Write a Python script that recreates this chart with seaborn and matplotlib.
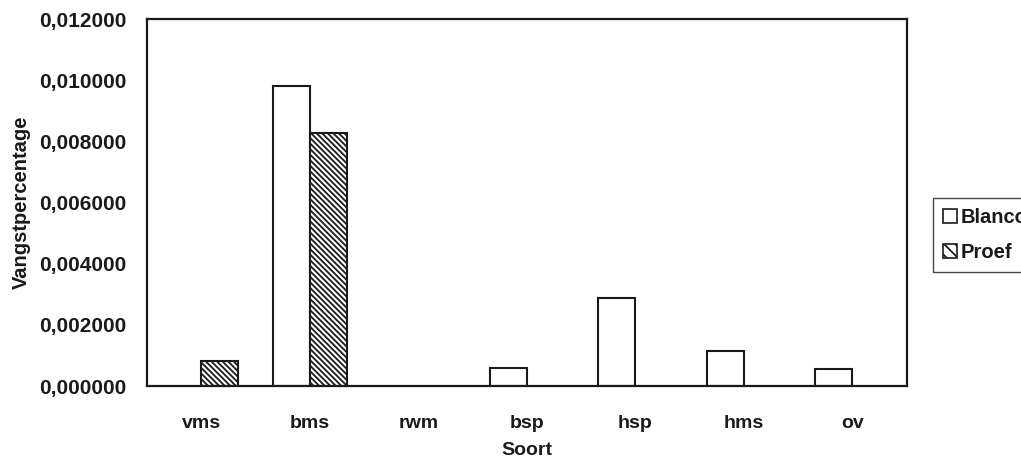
import matplotlib
matplotlib.use("Agg")
import matplotlib.pyplot as plt
from matplotlib.patches import Patch
from matplotlib.ticker import FuncFormatter, FixedLocator
import numpy as np
import pandas as pd
import seaborn as sns

# Vangstpercentage per soort, blanco- en proefvangst
soorten = ["vms", "bms", "rwm", "bsp", "hsp", "hms", "ov"]
blanco = [0.0, 0.0098, 0.0, 0.00059, 0.00289, 0.00115, 0.00057]
proef = [0.00082, 0.00826, 0.0, 0.0, 0.0, 0.0, 0.0]
series = ["Blanco", "Proef"]
y_ticks = [0.0, 0.002, 0.004, 0.006, 0.008, 0.010, 0.012]

df = pd.DataFrame({
    "Soort": soorten * 2,
    "Vangstpercentage": blanco + proef,
    "Reeks": [series[0]] * len(soorten) + [series[1]] * len(soorten),
})

sns.set_style("white")
plt.rcParams["font.family"] = ["Liberation Sans", "DejaVu Sans"]
plt.rcParams["font.weight"] = "bold"
plt.rcParams["hatch.linewidth"] = 1.3
plt.rcParams["hatch.color"] = "#222222"

fig = plt.figure(figsize=(10.21, 4.58), dpi=100)
ax = fig.add_axes([0.144, 0.157, 0.744, 0.8015])

sns.barplot(data=df, x="Soort", y="Vangstpercentage", hue="Reeks",
            order=soorten, hue_order=series, palette=["white", "white"],
            width=0.68, edgecolor="#1a1a1a", linewidth=1.5,
            legend=False, ax=ax)

hatch = "\\" * 6
n = len(soorten)
for i, bar in enumerate(ax.patches[:2 * n]):
    if i >= n:
        bar.set_hatch(hatch)
    if bar.get_height() == 0:
        bar.set_visible(False)

ax.set_ylim(0, 0.012)
ax.set_xlim(-0.5, n - 0.5)
ax.yaxis.set_major_locator(FixedLocator(y_ticks))
ax.yaxis.set_major_formatter(FuncFormatter(lambda v, p: f"{v:.6f}".replace(".", ",")))
ax.xaxis.set_minor_locator(FixedLocator(np.arange(-0.5, n, 1.0)))

ax.tick_params(axis="y", which="major", direction="inout", length=10, width=1.2,
               color="#1a1a1a", pad=10, labelsize=15, labelcolor="#1a1a1a")
ax.tick_params(axis="x", which="major", length=0, pad=21, labelsize=14,
               labelcolor="#1a1a1a")
ax.tick_params(axis="x", which="minor", direction="inout", length=10, width=1.2,
               color="#1a1a1a")

for s in ax.spines.values():
    s.set_visible(True)
    s.set_color("#1a1a1a")
    s.set_linewidth(1.6)

ax.set_xlabel("Soort", fontsize=14, fontweight="bold", color="#1a1a1a", labelpad=7)
ax.set_ylabel("Vangstpercentage", fontsize=14.5, fontweight="bold", color="#1a1a1a",
              labelpad=6)

handles = [Patch(facecolor="white", edgecolor="#1a1a1a", linewidth=1.2, label=series[0]),
           Patch(facecolor="white", edgecolor="#1a1a1a", linewidth=1.2,
                 hatch="\\" * 3, label=series[1])]
leg = fig.legend(handles=handles, loc="upper left", bbox_to_anchor=(0.914, 0.568),
                 frameon=True, fancybox=False, edgecolor="#1a1a1a",
                 fontsize=14.5, handlelength=0.7, handleheight=0.7,
                 handletextpad=0.15, borderpad=0.5, labelspacing=0.8,
                 borderaxespad=0)
leg.get_frame().set_linewidth(1.0)
for t in leg.get_texts():
    t.set_fontweight("bold")
    t.set_color("#1a1a1a")

fig.savefig("out.png", dpi=100)
